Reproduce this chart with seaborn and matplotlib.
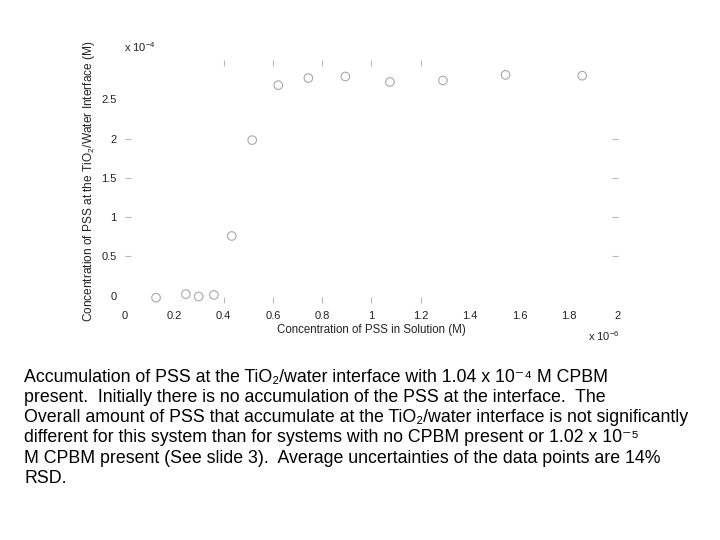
import numpy as np
import pandas as pd
import matplotlib
matplotlib.use('agg')
import matplotlib.pyplot as plt
import seaborn as sns

# PSS in solution (x 1e-6 M) vs PSS at the TiO2/water interface (x 1e-4 M)
pss_solution = [0.126, 0.247, 0.299, 0.361, 0.433, 0.516, 0.622, 0.744, 0.894, 1.075, 1.29, 1.544, 1.855]
pss_interface = [-0.025, 0.02, -0.01, 0.01, 0.76, 1.98, 2.68, 2.77, 2.79, 2.72, 2.74, 2.81, 2.80]

x_ticks = [0, 0.2, 0.4, 0.6, 0.8, 1, 1.2, 1.4, 1.6, 1.8, 2]
y_ticks = [0, 0.5, 1, 1.5, 2, 2.5]

caption_lines = [
    "Accumulation of PSS at the TiO\u2082/water interface with 1.04 x 10\u207b\u2074 M CPBM",
    "present.  Initially there is no accumulation of the PSS at the interface.  The",
    "Overall amount of PSS that accumulate at the TiO\u2082/water interface is not significantly",
    "different for this system than for systems with no CPBM present or 1.02 x 10\u207b\u2075",
    "M CPBM present (See slide 3).  Average uncertainties of the data points are 14%",
    "RSD.",
]

df = pd.DataFrame({'x': pss_solution, 'y': pss_interface})

sns.set_style('white')
plt.rcParams['font.family'] = ['Liberation Sans', 'DejaVu Sans']
plt.rcParams['mathtext.fontset'] = 'custom'
plt.rcParams['mathtext.rm'] = 'Liberation Sans'
plt.rcParams['mathtext.it'] = 'Liberation Sans:italic'
plt.rcParams['mathtext.bf'] = 'Liberation Sans:bold'

fig = plt.figure(figsize=(7.2, 5.4), dpi=100)
ax = fig.add_axes([0.1736, 0.4389, 0.6847, 0.45])

sns.scatterplot(data=df, x='x', y='y', ax=ax, marker='o', s=38,
                facecolor='none', edgecolor='#a8a8a8', linewidth=0.8)

ax.set_xlim(0, 2)
ax.set_ylim(-0.093, 3.0)
ax.set_xticks(x_ticks)
ax.set_xticklabels([f'{v:g}' for v in x_ticks])
ax.set_yticks(y_ticks)
ax.set_yticklabels([f'{v:g}' for v in y_ticks])
ax.tick_params(direction='in', length=4, width=0.8, color='#b8b8b8',
               labelsize=8, labelcolor='#222222', top=True, right=True,
               bottom=True, left=True, pad=6)
for s in ax.spines.values():
    s.set_visible(False)

# only the middle tick marks show up in the original
for t, v in zip(ax.xaxis.get_major_ticks(), x_ticks):
    show = 0.3 < v < 1.3
    t.tick1line.set_visible(show)
    t.tick2line.set_visible(show)
for t, v in zip(ax.yaxis.get_major_ticks(), y_ticks):
    show = 0.3 < v < 2.2
    t.tick1line.set_visible(show)
    t.tick2line.set_visible(show)

ax.set_xlabel('Concentration of PSS in Solution (M)', fontsize=8.3, color='#222222', labelpad=2)
ax.set_ylabel('Concentration of PSS at the TiO$_2$/Water Interface (M)', fontsize=8.6,
              color='#222222', labelpad=3)

fig.text(124 / 720, 1 - 47 / 540, 'x 10$^{-4}$', fontsize=8, color='#222222', va='center')
fig.text(588 / 720, 1 - 336 / 540, 'x 10$^{-6}$', fontsize=8, color='#222222', va='center')

# caption, one text per line so the spacing stays even
for i, line in enumerate(caption_lines):
    fig.text(24.5 / 720, 1 - (381.5 + 20.3 * i) / 540, line, fontsize=12.8,
             color='black', va='baseline', ha='left')

fig.savefig('out.png', dpi=100)
